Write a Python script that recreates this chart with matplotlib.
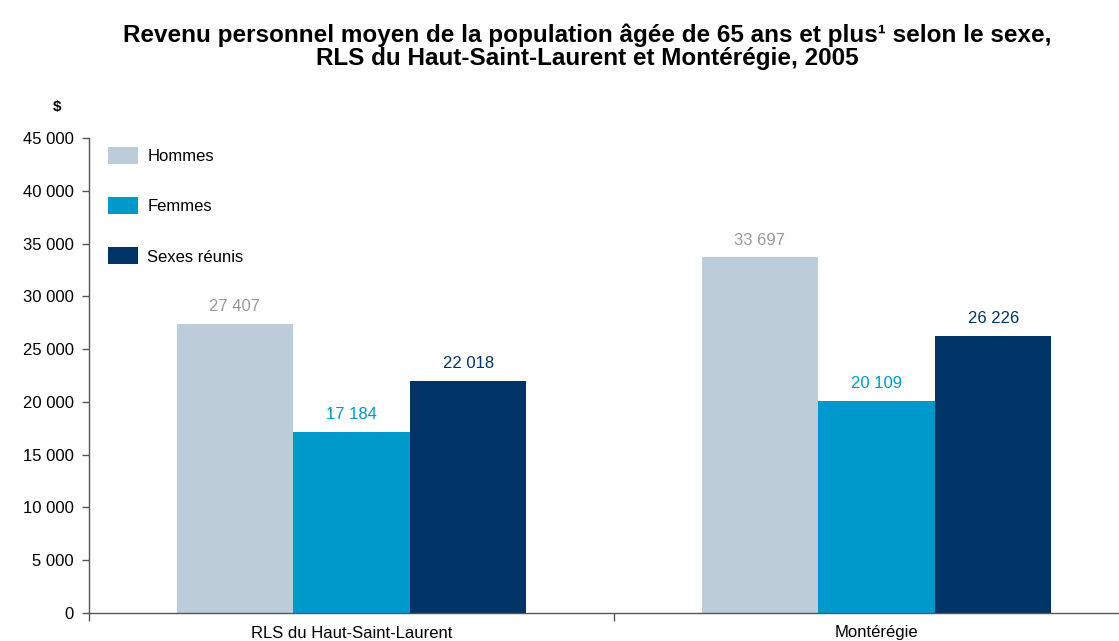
import matplotlib
matplotlib.use("Agg")
import matplotlib.pyplot as plt
from matplotlib.patches import Patch
import numpy as np

plt.rcParams['font.family'] = ['Liberation Sans', 'DejaVu Sans']

categories = ["RLS du Haut-Saint-Laurent", "Montérégie"]
series_names = ["Hommes", "Femmes", "Sexes réunis"]
hommes = [27407, 33697]
femmes = [17184, 20109]
sexes = [22018, 26226]
yticks = [0, 5000, 10000, 15000, 20000, 25000, 30000, 35000, 40000, 45000]

bar_colors = ["#BDCCD9", "#0099CC", "#003366"]
label_colors = ["#999999", "#0099CC", "#003366"]

def fmt(v):
    return f"{v:,}".replace(",", " ")

W, H = 1119, 641
fig = plt.figure(figsize=(W / 100, H / 100), dpi=100)
ax = fig.add_axes([89 / W, (641 - 613) / H, 1050 / W, 475 / H])

x = np.arange(len(categories))
bw = 0.2222
data = [hommes, femmes, sexes]
for i, (vals, c, lc) in enumerate(zip(data, bar_colors, label_colors)):
    pos = x + (i - 1) * bw
    ax.bar(pos, vals, width=bw, color=c, edgecolor='none', zorder=2)
    for p, v in zip(pos, vals):
        ax.annotate(fmt(v), (p, v), xytext=(0, 7), textcoords='offset points',
                    ha='center', va='bottom', fontsize=12, color=lc)

ax.set_xlim(-0.5, len(categories) - 0.5)
ax.set_ylim(0, 45000)
ax.set_yticks(yticks)
ax.set_yticklabels([fmt(v) for v in yticks], fontsize=12, color='#000000')
ax.set_xticks(x)
ax.set_xticklabels(categories, fontsize=12)
ax.set_xticks(np.arange(len(categories) + 1) - 0.5, minor=True)
ax.tick_params(axis='x', which='major', length=0, pad=9)
ax.tick_params(axis='x', which='minor', length=6, width=1, color='#555555', direction='out')
ax.tick_params(axis='y', length=5, width=1, color='#555555', direction='out', pad=6)

for s in ['top', 'right']:
    ax.spines[s].set_visible(False)
for s in ['left', 'bottom']:
    ax.spines[s].set_color('#555555')
    ax.spines[s].set_linewidth(1)

handles = [Patch(facecolor=c, edgecolor='none') for c in bar_colors]
ax.legend(handles, series_names, loc='upper left',
          bbox_to_anchor=(19 / 1050, 1 - 9 / 475),
          frameon=False, fontsize=12, handlelength=1.8, handleheight=1.2,
          labelspacing=1.98, handletextpad=0.55, borderaxespad=0.0,
          borderpad=0.0)

fig.text(57 / W, 1 - 107 / H, "$", ha='center', va='center', fontsize=11, fontweight='bold')
fig.text(587 / W, 1 - 35 / H,
         "Revenu personnel moyen de la population âgée de 65 ans et plus¹ selon le sexe,",
         ha='center', va='center', fontsize=17.5, fontweight='bold')
fig.text(587 / W, 1 - 59 / H,
         "RLS du Haut-Saint-Laurent et Montérégie, 2005",
         ha='center', va='center', fontsize=17.5, fontweight='bold')

fig.savefig("out.png", dpi=100)
